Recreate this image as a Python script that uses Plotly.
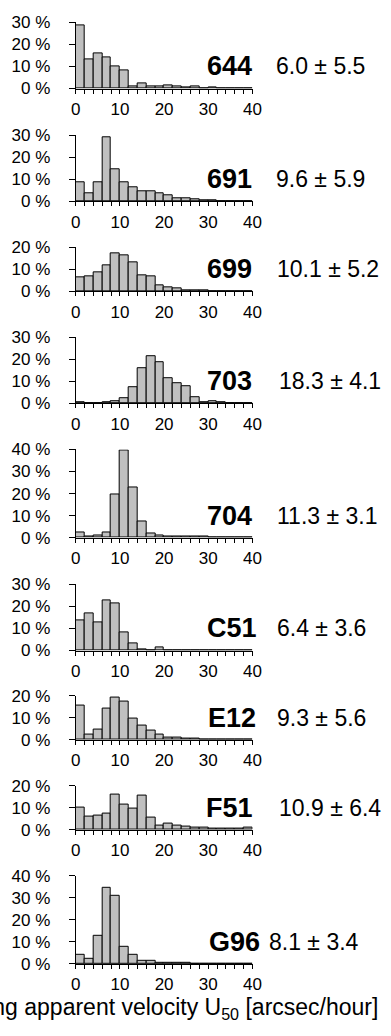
import plotly.graph_objects as go

# ---- data -------------------------------------------------------------
bin_edges = [0, 2, 4, 6, 8, 10, 12, 14, 16, 18, 20, 22, 24, 26, 28, 30, 32, 34, 36, 38, 40]

stations = ["644", "691", "699", "703", "704", "C51", "E12", "F51", "G96"]
stats = ["6.0 ± 5.5", "9.6 ± 5.9", "10.1 ± 5.2", "18.3 ± 4.1", "11.3 ± 3.1",
         "6.4 ± 3.6", "9.3 ± 5.6", "10.9 ± 6.4", "8.1 ± 3.4"]
y_max = [30, 30, 20, 30, 40, 30, 20, 20, 40]

h644 = [28.8, 13.0, 16.0, 14.2, 10.0, 8.3, 1.0, 2.2, 1.0, 0.8, 1.4, 1.0, 0.4, 0.8, 0.2, 0.3, 0.1, 0.1, 0.1, 0.1]
h691 = [8.9, 3.8, 8.9, 29.2, 14.5, 8.9, 6.4, 4.7, 4.7, 3.8, 3.0, 1.6, 1.2, 1.0, 0.6, 0.3, 0.2, 0.1, 0.1, 0.1]
h699 = [6.6, 6.8, 8.5, 11.9, 17.4, 16.3, 13.1, 7.5, 6.9, 2.8, 1.9, 1.3, 0.7, 0.6, 0.4, 0.2, 0.1, 0.1, 0.1, 0.1]
h703 = [0.3, 0.1, 0.1, 0.6, 1.0, 2.5, 7.3, 15.9, 21.2, 18.7, 11.5, 9.1, 7.6, 2.8, 0.4, 0.9, 0.3, 0.2, 0.1, 0.1]
h704 = [2.5, 0.6, 0.9, 2.3, 19.4, 39.5, 22.9, 7.5, 2.0, 1.2, 0.7, 0.6, 0.4, 0.3, 0.3, 0.2, 0.1, 0.1, 0.1, 0.1]
hC51 = [13.7, 16.9, 12.6, 22.8, 21.2, 8.4, 3.3, 0.7, 0.15, 1.3, 0.05, 0.05, 0.05, 0.05, 0.05, 0.05, 0.05, 0.05, 0.05, 0.05]
hE12 = [15.5, 2.4, 4.5, 14.1, 18.9, 17.4, 9.7, 6.3, 4.3, 2.4, 0.9, 1.0, 0.5, 0.5, 0.15, 0.1, 0.1, 0.1, 0.1, 0.1]
hF51 = [10.0, 5.9, 6.5, 7.4, 15.9, 11.5, 9.6, 15.6, 5.6, 1.9, 2.9, 1.8, 1.6, 1.0, 0.9, 0.4, 0.4, 0.4, 0.4, 1.0]
hG96 = [4.0, 2.2, 12.6, 34.5, 30.8, 7.8, 4.3, 1.5, 1.3, 0.6, 0.4, 0.4, 0.4, 0.15, 0.05, 0.05, 0.05, 0.05, 0.05, 0.05]
heights = [h644, h691, h699, h703, h704, hC51, hE12, hF51, hG96]

x_tick_labels = ["0", "10", "20", "30", "40"]
y_tick_values = [0, 10, 20, 30, 40]

# ---- layout (pixels) --------------------------------------------------
W, H = 391, 1036
X0, X1 = 73.3, 256.7
PX_PER_PCT = 2.245
zero_px = [81, 196, 287.7, 401.7, 538.5, 653.5, 744.3, 836, 972.8]
name_right_px = [258, 258, 258, 258, 258, 263, 262, 259, 267]
stat_left_px = [279, 279, 280, 282, 280, 280, 280, 282, 272]

FONT = "Arial"

fig = go.Figure()
centers = [(a + b) / 2 for a, b in zip(bin_edges[:-1], bin_edges[1:])]
widths = [b - a for a, b in zip(bin_edges[:-1], bin_edges[1:])]

annotations = []
for i, (name, stat, ym, h) in enumerate(zip(stations, stats, y_max, heights)):
    k = "" if i == 0 else str(i + 1)
    fig.add_trace(go.Bar(
        x=centers, y=h, width=widths,
        marker=dict(color="#c0c0c0", line=dict(color="black", width=1)),
        xaxis="x" + k, yaxis="y" + k, showlegend=False, hoverinfo="skip",
    ))
    bottom = 1 - zero_px[i] / H
    top = 1 - (zero_px[i] - ym * PX_PER_PCT) / H
    ticktext_x = [str(v) if str(v) in x_tick_labels else "" for v in bin_edges]
    yv = [v for v in y_tick_values if v <= ym]
    fig.update_layout(**{
        "xaxis" + k: dict(
            domain=[X0 / W, X1 / W], range=[0, 40], anchor="y" + k,
            tickmode="array", tickvals=bin_edges, ticktext=ticktext_x, tickangle=0,
            ticks="outside", ticklen=4, tickwidth=1, tickcolor="black",
            showline=True, linecolor="black", linewidth=1,
            showgrid=False, zeroline=False, fixedrange=True,
            tickfont=dict(family=FONT, size=17, color="black"),
            ticklabelstandoff=1,
        ),
        "yaxis" + k: dict(
            domain=[bottom, top], range=[0, ym], anchor="x" + k,
            tickmode="array", tickvals=yv, ticktext=[f"{v} %" for v in yv],
            ticks="outside", ticklen=6, tickwidth=1, tickcolor="black",
            showline=True, linecolor="black", linewidth=1,
            showgrid=False, zeroline=False, fixedrange=True,
            tickfont=dict(family=FONT, size=17, color="black"),
            ticklabelstandoff=15,
        ),
    })
    annotations.append(dict(
        text="<b>" + name + "</b>", xref="paper", x=name_right_px[i] / W, xanchor="right",
        yref="y" + k, y=10, yanchor="middle", showarrow=False,
        font=dict(family=FONT, size=27, color="black"),
    ))
    annotations.append(dict(
        text=stat, xref="paper", x=stat_left_px[i] / W, xanchor="left",
        yref="y" + k, y=10, yanchor="middle", showarrow=False,
        font=dict(family=FONT, size=23, color="black"),
    ))

annotations.append(dict(
    text="Corresponding apparent velocity U<sub>50</sub> [arcsec/hour]",
    xref="paper", x=389 / W, xanchor="right",
    yref="paper", y=1 - 1018 / H, yanchor="middle", showarrow=False,
    font=dict(family=FONT, size=23, color="black"),
))

fig.update_layout(
    width=W, height=H, margin=dict(l=0, r=0, t=0, b=0),
    paper_bgcolor="white", plot_bgcolor="white",
    bargap=0, annotations=annotations,
)

fig.write_html("out.html")
